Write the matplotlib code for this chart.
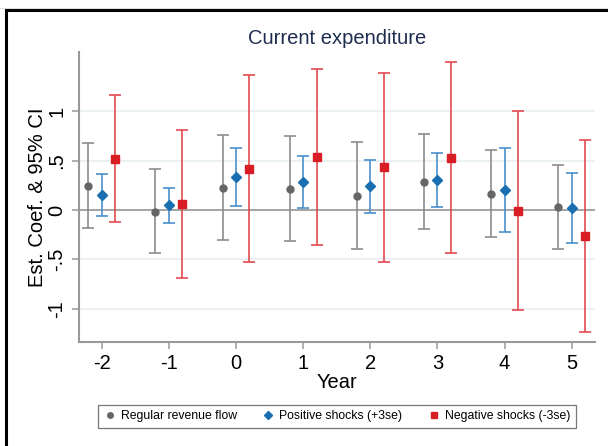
import matplotlib
matplotlib.use("Agg")
import matplotlib.pyplot as plt
from matplotlib.lines import Line2D
import numpy as np

plt.rcParams['font.family'] = ['Liberation Sans', 'DejaVu Sans']

years = [-2, -1, 0, 1, 2, 3, 4, 5]
year_labels = ["-2", "-1", "0", "1", "2", "3", "4", "5"]

reg_coef = [0.243, -0.017, 0.223, 0.216, 0.145, 0.287, 0.165, 0.027]
reg_hi = [0.679, 0.419, 0.760, 0.753, 0.686, 0.773, 0.611, 0.456]
reg_lo = [-0.182, -0.439, -0.307, -0.314, -0.395, -0.189, -0.277, -0.398]

pos_coef = [0.152, 0.051, 0.338, 0.280, 0.243, 0.304, 0.206, 0.020]
pos_hi = [0.368, 0.226, 0.628, 0.547, 0.507, 0.574, 0.631, 0.375]
pos_lo = [-0.064, -0.135, 0.044, 0.017, -0.027, 0.030, -0.223, -0.334]

neg_coef = [0.517, 0.057, 0.419, 0.534, 0.432, 0.527, -0.010, -0.263]
neg_hi = [1.162, 0.807, 1.368, 1.429, 1.391, 1.503, 1.003, 0.706]
neg_lo = [-0.125, -0.692, -0.527, -0.351, -0.523, -0.439, -1.017, -1.233]

yticks = [-1, -0.5, 0, 0.5, 1]
ytick_labels = ["-1", "-.5", "0", ".5", "1"]

series = [
    ("Regular revenue flow", reg_coef, reg_lo, reg_hi, -0.2, 'o', '#666666', '#8c8c8c', 5),
    ("Positive shocks (+3se)", pos_coef, pos_lo, pos_hi, 0.0, 'D', '#1a6fb0', '#4a90cc', 5),
    ("Negative shocks (-3se)", neg_coef, neg_lo, neg_hi, 0.2, 's', '#d81e24', '#e34a4f', 5.5),
]

fig = plt.figure(figsize=(6.08, 4.46), dpi=100)
ax = fig.add_axes([79/608, 1-341.7/446, (595-79)/608, (341.7-52)/446])

for yv in [-1, -0.5, 0.5, 1]:
    ax.axhline(yv, color='#e6eef0', lw=1.1, zorder=0)
ax.axhline(0, color='#8c8c8c', lw=1.1, zorder=1)

handles = []
for name, coef, lo, hi, off, mk, mc, bc, ms in series:
    x = np.array(years) + off
    c = np.array(coef)
    err = [c - np.array(lo), np.array(hi) - c]
    ax.errorbar(x, c, yerr=err, fmt='none', ecolor=bc, elinewidth=1.2,
                capsize=4, capthick=1.2, zorder=2)
    ax.plot(x, c, linestyle='none', marker=mk, color=mc, markersize=ms, zorder=3)
    handles.append(Line2D([], [], linestyle='none', marker=mk, color=mc,
                          markersize=4, label=name))

ax.set_xlim(-2.338, 5.347)
ax.set_ylim(-1.334, 1.60)
ax.set_xticks(years)
ax.set_xticklabels(year_labels, fontsize=14.5)
ax.set_yticks(yticks)
ax.set_yticklabels(ytick_labels, fontsize=14.5, rotation=90, va='center')
for s in ['top', 'right']:
    ax.spines[s].set_visible(False)
for s in ['left', 'bottom']:
    ax.spines[s].set_color('#999999')
    ax.spines[s].set_linewidth(1.5)
ax.tick_params(axis='both', colors='#999999', length=5, width=1.1, labelcolor='black')
ax.tick_params(axis='x', pad=4)
ax.tick_params(axis='y', pad=4)
ax.set_xlabel("Year", fontsize=14.5, labelpad=0)
ax.set_ylabel("Est. Coef. & 95% CI", fontsize=14.5, labelpad=0)
fig.text(337/608, 1-39/446, "Current expenditure", fontsize=14.5, color='#1f2d50',
         ha='center', va='center')

leg = fig.legend(handles=handles, loc='center', bbox_to_anchor=(337/608, 1-416/446),
                 ncol=3, fontsize=8.8, frameon=True, fancybox=False,
                 edgecolor='#555555', handletextpad=0.4, columnspacing=2.1,
                 handlelength=1.0, borderpad=0.45)
leg.get_frame().set_linewidth(0.9)

# screenshot frame lines
fig.add_artist(Line2D([6/608, 6/608], [0, 1-10/446], color='black', lw=2.2,
                      transform=fig.transFigure))
fig.add_artist(Line2D([6/608, 1], [1-10/446, 1-10/446], color='black', lw=2.2,
                      transform=fig.transFigure))
fig.add_artist(Line2D([0, 1], [1-8/446, 1-8/446], color='#dddddd', lw=0.8,
                      transform=fig.transFigure))

fig.savefig("out.png", dpi=100)
